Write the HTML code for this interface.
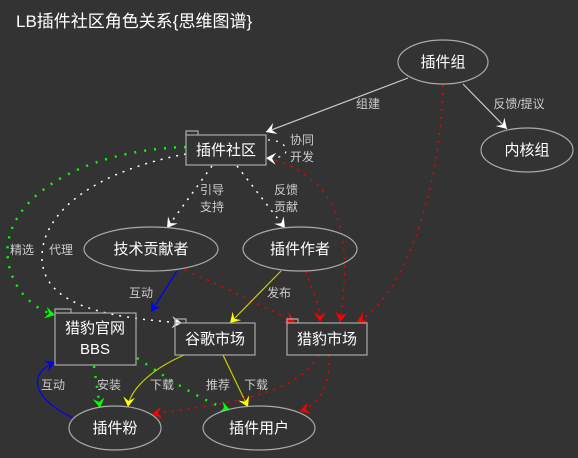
<!DOCTYPE html>
<html><head><meta charset="utf-8"><style>
html,body{margin:0;padding:0;background:#333;}
svg{display:block;}
text{font-family:"Liberation Sans","Noto Sans CJK SC",sans-serif;}
.n{fill:#fff;font-size:15px;text-anchor:middle;}
.l{fill:#ccc;font-size:12px;text-anchor:middle;}
.s{fill:none;stroke:#aaa;stroke-width:1.2;}
</style></head><body>
<svg width="578" height="458" viewBox="0 0 578 458">
<defs>
<marker id="aw" markerWidth="12" markerHeight="12" refX="10" refY="6" orient="auto" markerUnits="userSpaceOnUse"><path d="M0,0 L10,6 L0,12 L4,6 Z" fill="#fff"/></marker>
<marker id="ar" markerWidth="12" markerHeight="12" refX="10" refY="6" orient="auto" markerUnits="userSpaceOnUse"><path d="M0,0 L10,6 L0,12 L4,6 Z" fill="#f00"/></marker>
<marker id="ag" markerWidth="12" markerHeight="12" refX="10" refY="6" orient="auto" markerUnits="userSpaceOnUse"><path d="M0,0 L10,6 L0,12 L4,6 Z" fill="#0f0"/></marker>
<marker id="ay" markerWidth="12" markerHeight="12" refX="10" refY="6" orient="auto" markerUnits="userSpaceOnUse"><path d="M0,0 L10,6 L0,12 L4,6 Z" fill="#ff0"/></marker>
<marker id="ab" markerWidth="12" markerHeight="12" refX="10" refY="6" orient="auto" markerUnits="userSpaceOnUse"><path d="M0,0 L10,6 L0,12 L4,6 Z" fill="#00f"/></marker>
</defs>
<rect width="578" height="458" fill="#333"/>
<text x="16" y="27" fill="#fff" font-size="17">LB插件社区角色关系{思维图谱}</text>

<path d="M408,78 L266,132" stroke="#ccc" stroke-width="1.2" fill="none" marker-end="url(#aw)"/>
<text class="l" x="368" y="108">组建</text>
<path d="M463,84 L507,129" stroke="#ccc" stroke-width="1.2" fill="none" marker-end="url(#aw)"/>
<text class="l" x="519" y="108">反馈/提议</text>
<path d="M443,85 C440,200 400,300 357,322" stroke="#e00" stroke-width="1.5" stroke-dasharray="2,6" fill="none" marker-end="url(#ar)"/>
<path d="M268,158 C350,180 350,250 340,322" stroke="#e00" stroke-width="1.5" stroke-dasharray="2,6" fill="none" marker-end="url(#ar)"/>
<path d="M268,140 C290,140 295,160 266,158" stroke="#fff" stroke-width="1.2" stroke-dasharray="2,6" fill="none" marker-end="url(#aw)"/>
<text class="l" x="302" y="144">协同</text>
<text class="l" x="302" y="161">开发</text>
<path d="M212,166 L167,228" stroke="#fff" stroke-width="1.5" stroke-dasharray="2,6" fill="none" marker-end="url(#aw)"/>
<text class="l" x="212" y="194">引导</text>
<text class="l" x="212" y="211">支持</text>
<path d="M237,166 L285,228" stroke="#fff" stroke-width="1.5" stroke-dasharray="2,6" fill="none" marker-end="url(#aw)"/>
<text class="l" x="286" y="194">反馈</text>
<text class="l" x="286" y="211">贡献</text>
<path d="M186,147 C80,150 0,200 8,260 C12,290 35,310 55,315" stroke="#0f0" stroke-width="2.5" stroke-dasharray="2,8" fill="none" marker-end="url(#ag)"/>
<text class="l" x="22" y="254">精选</text>
<path d="M186,154 C100,170 40,210 42,260 C45,310 120,318 182,323" stroke="#fff" stroke-width="1.5" stroke-dasharray="2,6" fill="none" marker-end="url(#aw)"/>
<text class="l" x="61" y="254">代理</text>
<path d="M177,271 L151,312" stroke="#00f" stroke-width="1.2" fill="none" marker-end="url(#ab)"/>
<text class="l" x="141" y="297">互动</text>
<path d="M185,270 C230,290 260,305 295,322" stroke="#e00" stroke-width="1.5" stroke-dasharray="2,6" fill="none" marker-end="url(#ar)"/>
<path d="M281,271 L230,323" stroke="#cc0" stroke-width="1.2" fill="none" marker-end="url(#ay)"/>
<text class="l" x="279" y="297">发布</text>
<path d="M306,271 C310,290 320,300 320,322" stroke="#e00" stroke-width="1.5" stroke-dasharray="2,6" fill="none" marker-end="url(#ar)"/>
<path d="M94,366 L100,408" stroke="#0f0" stroke-width="2.5" stroke-dasharray="2,8" fill="none" marker-end="url(#ag)"/>
<text class="l" x="109" y="389">安装</text>
<path d="M137,358 C170,380 200,400 230,410" stroke="#0f0" stroke-width="2.5" stroke-dasharray="2,8" fill="none" marker-end="url(#ag)"/>
<text class="l" x="218" y="389">推荐</text>
<path d="M184,355 C150,370 130,390 128,407" stroke="#cc0" stroke-width="1.2" fill="none" marker-end="url(#ay)"/>
<text class="l" x="162" y="389">下载</text>
<path d="M223,355 L248,407" stroke="#cc0" stroke-width="1.2" fill="none" marker-end="url(#ay)"/>
<text class="l" x="256" y="389">下载</text>
<path d="M318,355 C300,395 220,405 152,414" stroke="#e00" stroke-width="1.5" stroke-dasharray="2,6" fill="none" marker-end="url(#ar)"/>
<path d="M329,355 C330,385 320,405 300,411" stroke="#e00" stroke-width="1.5" stroke-dasharray="2,6" fill="none" marker-end="url(#ar)"/>
<path d="M73,418 C35,400 25,375 55,362" stroke="#00f" stroke-width="1.2" fill="none" marker-end="url(#ab)"/>
<text class="l" x="53" y="389">互动</text>

<ellipse class="s" cx="443" cy="62" rx="45" ry="22"/><text class="n" x="443" y="67">插件组</text>
<ellipse class="s" cx="527" cy="150" rx="46" ry="22"/><text class="n" x="527" y="155">内核组</text>
<path class="s" d="M186,135 V131 H198 V135"/><rect class="s" x="186" y="135" width="80" height="30"/><text class="n" x="226" y="155">插件社区</text>
<ellipse class="s" cx="151" cy="249" rx="67" ry="22"/><text class="n" x="151" y="254">技术贡献者</text>
<ellipse class="s" cx="300" cy="249" rx="57" ry="22"/><text class="n" x="300" y="254">插件作者</text>
<path class="s" d="M55,313 V309 H71 V313"/><rect class="s" x="55" y="313" width="81" height="52"/><text class="n" x="95" y="333">猎豹官网</text><text class="n" x="95" y="354">BBS</text>
<path class="s" d="M175,323 V319 H186 V323"/><rect class="s" x="175" y="323" width="80" height="32"/><text class="n" x="215" y="344">谷歌市场</text>
<path class="s" d="M287,323 V319 H298 V323"/><rect class="s" x="287" y="323" width="80" height="32"/><text class="n" x="327" y="344">猎豹市场</text>
<ellipse class="s" cx="115" cy="428" rx="46" ry="22"/><text class="n" x="115" y="433">插件粉</text>
<ellipse class="s" cx="259" cy="428" rx="56" ry="22"/><text class="n" x="259" y="433">插件用户</text>
</svg>
</body></html>
